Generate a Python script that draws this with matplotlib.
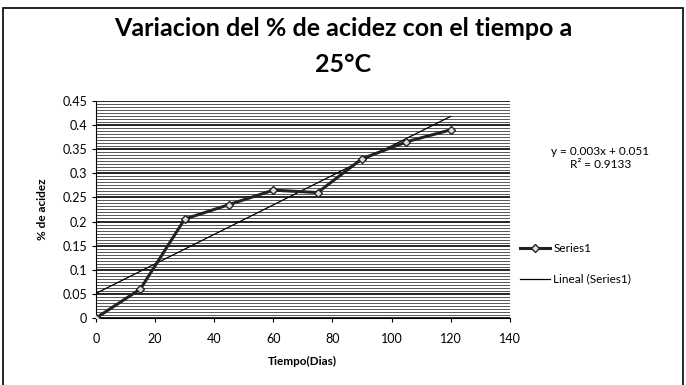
import numpy as np
import matplotlib.pyplot as plt
from matplotlib.patches import Rectangle
from matplotlib.ticker import MultipleLocator, FuncFormatter

# Datos
dias = [0, 15, 30, 45, 60, 75, 90, 105, 120]
acidez = [0.0, 0.06, 0.205, 0.235, 0.265, 0.26, 0.33, 0.365, 0.39]
x_ticks = [0, 20, 40, 60, 80, 100, 120, 140]
y_ticks = [0, 0.05, 0.1, 0.15, 0.2, 0.25, 0.3, 0.35, 0.4, 0.45]
ecuacion = 'y = 0.003x + 0.051'
r2_texto = 'R² = 0.9133'

plt.rcParams['font.family'] = ['Lato', 'DejaVu Sans']

fig = plt.figure(figsize=(6.86, 3.85), dpi=100)
ax = fig.add_axes([0.14, 0.174, 0.603, 0.564])

# marco exterior del grafico
fig.patches.append(Rectangle((0.005, -0.05), 0.99, 1.03, transform=fig.transFigure,
                             fill=False, edgecolor='black', linewidth=1.2))

# linea de tendencia
b, a = np.polyfit(dias, acidez, 1)
xt = np.array([0, 120])
ax.plot(dias, acidez, color='#222222', linewidth=2.2, marker='D', markersize=4,
        markerfacecolor='#dddddd', markeredgecolor='#222222', markeredgewidth=1,
        label='Series1', zorder=4)
ax.plot(xt, a + b * xt, color='black', linewidth=0.9, label='Lineal (Series1)', zorder=3)

ax.set_xlim(0, 140)
ax.set_ylim(0, 0.45)
ax.set_xticks(x_ticks)
ax.set_yticks(y_ticks)
ax.yaxis.set_minor_locator(MultipleLocator(0.05 / 8))
ax.yaxis.set_major_formatter(FuncFormatter(lambda v, p: f'{v:g}'))
ax.grid(axis='y', which='major', color='black', linewidth=1.2)
ax.grid(axis='y', which='minor', color='#555555', linewidth=0.7)
ax.set_axisbelow(True)
ax.tick_params(axis='y', which='minor', length=0)
ax.tick_params(labelsize=9, length=3)
ax.tick_params(axis='x', pad=8)
for s in ['top', 'right']:
    ax.spines[s].set_visible(False)

ax.set_xlabel('Tiempo(Dias)', fontsize=8.5, fontweight='bold', labelpad=8)
ax.set_ylabel('% de acidez', fontsize=8.5, fontweight='bold', labelpad=10)
fig.suptitle('Variacion del % de acidez con el tiempo a\n25°C', fontsize=18,
             fontweight='bold', y=0.955, linespacing=1.65)

fig.text(0.875, 0.59, ecuacion + '\n' + r2_texto, fontsize=8.5,
         ha='center', va='center', linespacing=1.25)
ax.legend(loc='center left', bbox_to_anchor=(1.0, 0.25), frameon=False,
          fontsize=8.5, handlelength=2.5, labelspacing=1.7, handletextpad=0.3)

plt.savefig('out.png', dpi=100)
